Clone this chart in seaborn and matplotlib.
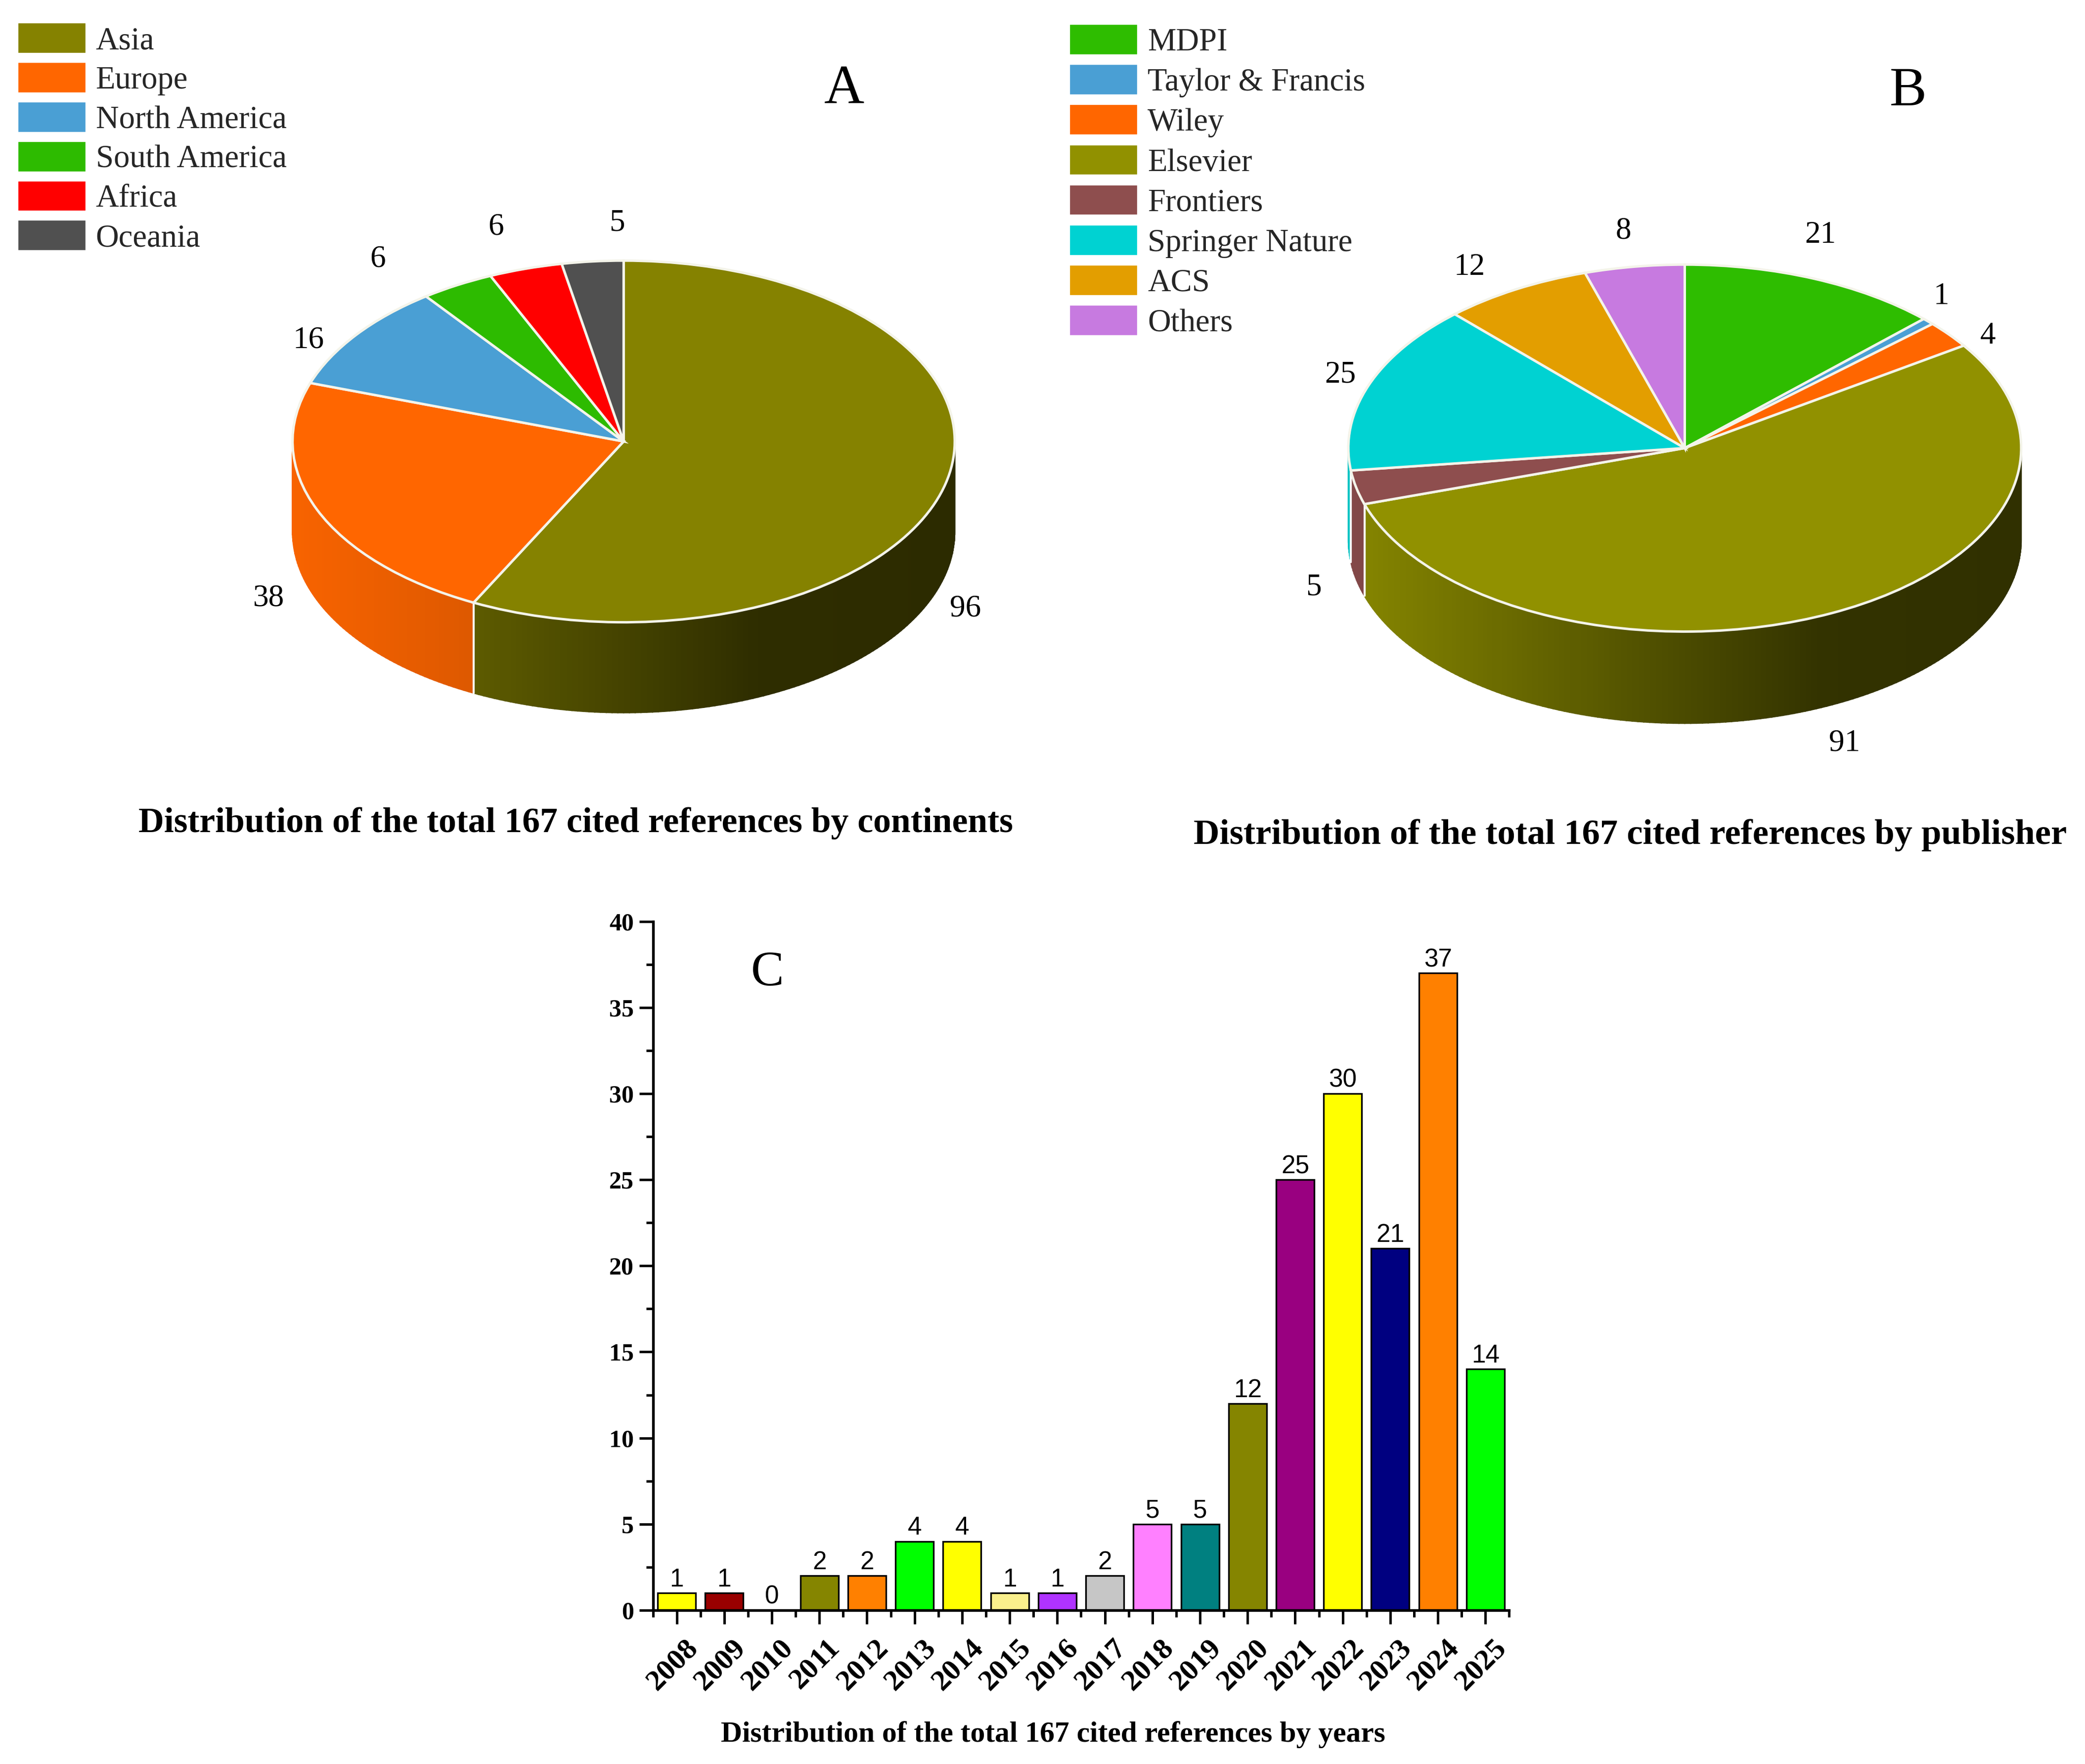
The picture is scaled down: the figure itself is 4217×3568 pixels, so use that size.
import numpy as np
import matplotlib
matplotlib.use("Agg")
import matplotlib.pyplot as plt
from matplotlib.patches import Patch
from matplotlib.colors import to_rgb
from matplotlib.ticker import MultipleLocator
from matplotlib.transforms import ScaledTranslation
import seaborn as sns

# data
continents = ['Asia', 'Europe', 'North America', 'South America', 'Africa', 'Oceania']
continent_refs = [96, 38, 16, 6, 6, 5]
continent_colors = ['#858200', '#ff6600', '#4a9fd4', '#2dbb00', '#ff0000', '#505050']

publishers = ['MDPI', 'Taylor & Francis', 'Wiley', 'Elsevier', 'Frontiers',
              'Springer Nature', 'ACS', 'Others']
publisher_refs = [21, 1, 4, 91, 5, 25, 12, 8]
publisher_colors = ['#2ebd00', '#4a9fd4', '#ff6600', '#919100', '#8e4e4e',
                    '#00d2d2', '#e39e00', '#c77ae0']

years = ['2008', '2009', '2010', '2011', '2012', '2013', '2014', '2015', '2016',
         '2017', '2018', '2019', '2020', '2021', '2022', '2023', '2024', '2025']
year_refs = [1, 1, 0, 2, 2, 4, 4, 1, 1, 2, 5, 5, 12, 25, 30, 21, 37, 14]
year_colors = ['#ffff00', '#990000', '#ffffff', '#858500', '#ff8000', '#00ff00',
               '#ffff00', '#faf08c', '#b033ff', '#c6c6c6', '#ff80ff', '#008080',
               '#858500', '#990080', '#ffff00', '#000080', '#ff8000', '#00ff00']

# label positions, in preview pixels (1568 wide)
continent_label_pos = [(726, 458), (202, 450), (232, 256), (284, 195), (373, 171), (464, 168)]
publisher_label_pos = [(1369, 177), (1460, 223), (1495, 253), (1387, 559),
                       (988, 442), (1008, 282), (1105, 201), (1221, 174)]

W, H = 4217, 3568
K = W / 1568

sns.set_theme(style='white')
plt.rcParams['font.family'] = ['Liberation Serif', 'DejaVu Serif']

fig = plt.figure(figsize=(W / 300, H / 300), dpi=300, facecolor='white')


def axes_px(x0, y0, x1, y1):
    return fig.add_axes([x0 * K / W, 1 - y1 * K / H, (x1 - x0) * K / W, (y1 - y0) * K / H])


def label(x, y, s, **kw):
    kw.setdefault('ha', 'center')
    kw.setdefault('va', 'center')
    kw.setdefault('fontsize', 15.2)
    fig.text(x * K / W, 1 - y * K / H, s, color='black', **kw)


def pie_3d(values, colors, cx, cy, rx, ry, depth_px):
    pad = 1.03
    depth = depth_px / ry
    ax = axes_px(cx - rx * pad, cy - ry * pad, cx + rx * pad, cy + ry + depth_px + ry * 0.03)
    # side wall, darker towards the right
    bounds = np.cumsum([0] + values) / sum(values) * 360
    for i, col in enumerate(colors):
        a0, a1 = max(bounds[i], 90), min(bounds[i + 1], 270)
        if a1 <= a0:
            continue
        rgb = to_rgb(col)
        t = np.radians(np.append(np.arange(a0, a1, 1.0), a1))
        for t0, t1 in zip(t[:-1], t[1:]):
            xm = (np.sin(t0) + np.sin(t1)) / 2
            f = np.interp(xm, [-1, -0.5, 0.4, 1], [0.93, 0.72, 0.35, 0.33])
            # the bright orange hardly darkens in the original
            if rgb[0] > 0.9:
                f = f ** 0.4
            ax.fill([np.sin(t0), np.sin(t1), np.sin(t1), np.sin(t0)],
                    [np.cos(t0), np.cos(t1), np.cos(t1) - depth, np.cos(t0) - depth],
                    color=tuple(c * f for c in rgb), lw=0.6, zorder=0.5)
    for b in bounds:
        if 90 < b < 270:
            t = np.radians(b)
            ax.plot([np.sin(t)] * 2, [np.cos(t), np.cos(t) - depth], color='white', lw=1, zorder=0.8)
    ax.pie(values, colors=colors, startangle=90, counterclock=False, radius=1,
           wedgeprops=dict(edgecolor='#f4f4ea', linewidth=1.2))
    ax.set_aspect('auto')
    ax.set_xlim(-pad, pad)
    ax.set_ylim(-1 - depth - 0.03, pad)
    ax.axis('off')
    return ax


def swatches(names, colors, x, y, step):
    handles = [Patch(facecolor=c, edgecolor=c, lw=0.4) for c in colors]
    fs = 15.5
    em = fs * 300 / 72
    fig.legend(handles, names, loc='upper left', frameon=False, fontsize=fs,
               bbox_to_anchor=(x * K / W, 1 - y * K / H), borderaxespad=0, borderpad=0,
               handlelength=50 * K / em, handleheight=24 * K / em,
               labelspacing=(step - 24) * K / em, handletextpad=8 * K / em)


# A
pie_3d(continent_refs, continent_colors, 469, 332, 249, 136, 68)
swatches(continents, continent_colors, 14, 18, 29.5)
for (x, y), v in zip(continent_label_pos, continent_refs):
    label(x, y, str(v))
label(635, 68, 'A', fontsize=27)
label(433, 619, 'Distribution of the total 167 cited references by continents',
      fontsize=17.2, fontweight='bold')

# B
pie_3d(publisher_refs, publisher_colors, 1267, 337, 253, 138, 69)
swatches(publishers, publisher_colors, 805, 19, 30)
for (x, y), v in zip(publisher_label_pos, publisher_refs):
    label(x, y, str(v))
label(1435, 69, 'B', fontsize=27)
label(1226, 628, 'Distribution of the total 167 cited references by publisher',
      fontsize=17.4, fontweight='bold')

# C
ax = axes_px(491, 693, 1135, 1211)
sns.barplot(x=years, y=year_refs, hue=years, palette=year_colors, legend=False,
            width=0.8, edgecolor='black', linewidth=0.8, saturation=1, ax=ax)
for cont in ax.containers:
    ax.bar_label(cont, fontsize=12.3, family='Liberation Sans', padding=0.5, color='black')
ax.set_xlim(-0.5, 17.5)
ax.set_ylim(0, 40)
ax.yaxis.set_major_locator(MultipleLocator(5))
ax.yaxis.set_minor_locator(MultipleLocator(2.5))
ax.xaxis.set_minor_locator(MultipleLocator(1, offset=0.5))
ax.tick_params(axis='both', which='major', length=6.8, width=1.2, direction='out',
               bottom=True, left=True, color='black')
ax.tick_params(axis='both', which='minor', length=3.4, width=1.2, direction='out',
               bottom=True, left=True, color='black')
ax.tick_params(axis='x', which='major', pad=5)
ax.tick_params(axis='y', which='major', pad=2.5)
for s in ['top', 'right']:
    ax.spines[s].set_visible(False)
for s in ['left', 'bottom']:
    ax.spines[s].set_linewidth(1.3)
    ax.spines[s].set_color('black')
shift = ScaledTranslation(-3 * K / 300, 0, fig.dpi_scale_trans)
for t in ax.get_xticklabels():
    t.set(rotation=45, ha='center', fontweight='bold', fontsize=14.5, color='black')
    t.set_transform(t.get_transform() + shift)
for t in ax.get_yticklabels():
    t.set(fontweight='bold', fontsize=12, color='black')
ax.set_xlabel('')
ax.set_ylabel('')
label(577, 732, 'C', fontsize=24)
label(792, 1304.5, 'Distribution of the total 167 cited references by years',
      fontsize=14.3, fontweight='bold')

fig.savefig('out.png', dpi=300, facecolor='white')
